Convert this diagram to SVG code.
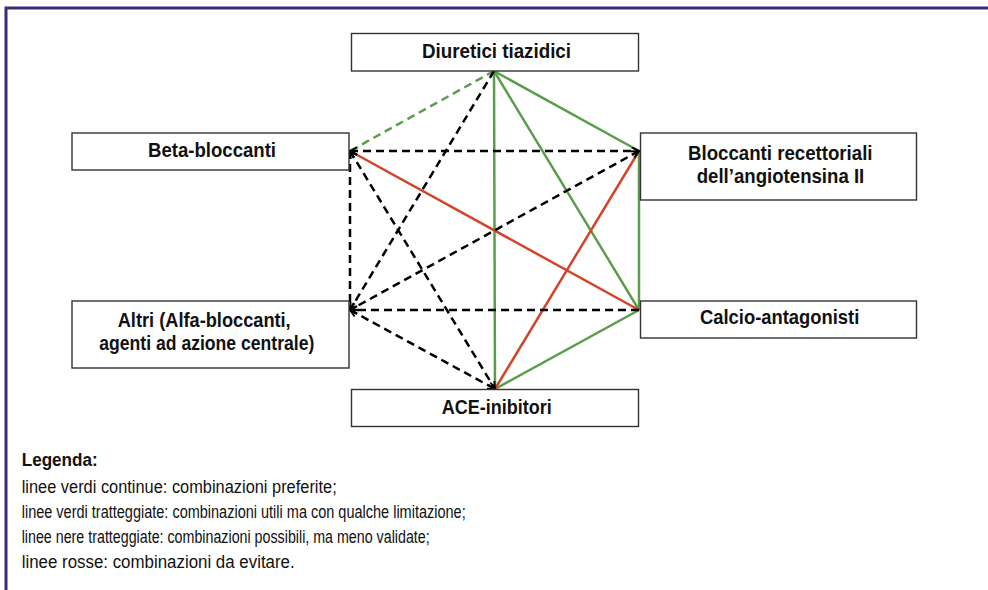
<svg xmlns="http://www.w3.org/2000/svg" width="988" height="590" viewBox="0 0 988 590">
<defs>
<style>
.box{fill:#fff;stroke:#333;stroke-width:1.4}
.lbl{font-family:"Liberation Sans",Arial,sans-serif;font-weight:bold;font-size:20.5px;fill:#111}
.leg{font-family:"Liberation Sans",Arial,sans-serif;font-size:17.5px;fill:#111}
.g{stroke:#5a9e4c;stroke-width:2.5;fill:none}
.gd{stroke:#5a9e4c;stroke-width:2.5;fill:none;stroke-dasharray:8 5}
.r{stroke:#d2452c;stroke-width:2.5;fill:none}
.k{stroke:#000;stroke-width:2.5;fill:none;stroke-dasharray:8 5}
</style>
<marker id="ah" viewBox="0 0 10 10" refX="9" refY="5" markerWidth="9" markerHeight="9" markerUnits="userSpaceOnUse" orient="auto-start-reverse">
<path d="M1,1 L9,5 L1,9" fill="none" stroke="#000" stroke-width="2" stroke-dasharray="none"/>
</marker>
</defs>
<rect x="0" y="0" width="988" height="590" fill="#fff"/>
<path d="M6,590 V8 H988" fill="none" stroke="#3b2b7a" stroke-width="3"/>
<g id="connectors">
<line class="gd" x1="494" y1="71" x2="350" y2="151"/>
<line class="g" x1="494" y1="71" x2="639" y2="151"/>
<line class="g" x1="494" y1="71" x2="639" y2="310"/>
<line class="g" x1="494" y1="71" x2="495" y2="389"/>
<line class="g" x1="639" y1="151" x2="639" y2="310"/>
<line class="g" x1="639" y1="310" x2="495" y2="389"/>
<line class="r" x1="350" y1="151" x2="639" y2="310"/>
<line class="r" x1="495" y1="389" x2="639" y2="151"/>
<line class="k" x1="350" y1="151" x2="639" y2="151" marker-start="url(#ah)" marker-end="url(#ah)"/>
<line class="k" x1="350" y1="151" x2="350" y2="310" marker-start="url(#ah)" marker-end="url(#ah)"/>
<line class="k" x1="350" y1="151" x2="495" y2="389" marker-start="url(#ah)" marker-end="url(#ah)"/>
<line class="k" x1="494" y1="71" x2="350" y2="310" marker-end="url(#ah)"/>
<line class="k" x1="639" y1="151" x2="350" y2="310" marker-start="url(#ah)" marker-end="url(#ah)"/>
<line class="k" x1="639" y1="310" x2="350" y2="310" marker-end="url(#ah)"/>
<line class="k" x1="350" y1="310" x2="495" y2="389" marker-start="url(#ah)" marker-end="url(#ah)"/>
</g>
<g id="diuretici">
<rect class="box" x="351.5" y="33.5" width="287" height="37.5"/>
<text class="lbl" x="422" y="57.5" textLength="149" lengthAdjust="spacingAndGlyphs">Diuretici tiazidici</text>
</g>
<g id="beta">
<rect class="box" x="72" y="133" width="277" height="37"/>
<text class="lbl" x="148" y="156.7" textLength="128" lengthAdjust="spacingAndGlyphs">Beta-bloccanti</text>
</g>
<g id="bloccanti">
<rect class="box" x="640.5" y="133" width="276" height="67"/>
<text class="lbl" x="688" y="160" textLength="184.5" lengthAdjust="spacingAndGlyphs">Bloccanti recettoriali</text>
<text class="lbl" x="696.7" y="183.3" textLength="167.6" lengthAdjust="spacingAndGlyphs">dell’angiotensina II</text>
</g>
<g id="altri">
<rect class="box" x="72" y="301" width="277" height="67"/>
<text class="lbl" x="117.7" y="327.3" textLength="173" lengthAdjust="spacingAndGlyphs">Altri (Alfa-bloccanti,</text>
<text class="lbl" x="99.3" y="350" textLength="215" lengthAdjust="spacingAndGlyphs">agenti ad azione centrale)</text>
</g>
<g id="calcio">
<rect class="box" x="640.5" y="301" width="276" height="37"/>
<text class="lbl" x="700" y="324.3" textLength="159.3" lengthAdjust="spacingAndGlyphs">Calcio-antagonisti</text>
</g>
<g id="ace">
<rect class="box" x="351.5" y="389.5" width="287" height="37"/>
<text class="lbl" x="441.7" y="414" textLength="110" lengthAdjust="spacingAndGlyphs">ACE-inibitori</text>
</g>
<g id="legenda">
<text class="leg" x="21.7" y="466" font-weight="bold" textLength="76" lengthAdjust="spacingAndGlyphs">Legenda:</text>
<text class="leg" x="21.7" y="493" textLength="315" lengthAdjust="spacingAndGlyphs">linee verdi continue: combinazioni preferite;</text>
<text class="leg" x="21.7" y="518" textLength="444" lengthAdjust="spacingAndGlyphs">linee verdi tratteggiate: combinazioni utili ma con qualche limitazione;</text>
<text class="leg" x="21.7" y="543" textLength="408" lengthAdjust="spacingAndGlyphs">linee nere tratteggiate: combinazioni possibili, ma meno validate;</text>
<text class="leg" x="21.7" y="568" textLength="273" lengthAdjust="spacingAndGlyphs">linee rosse: combinazioni da evitare.</text>
</g>
</svg>
